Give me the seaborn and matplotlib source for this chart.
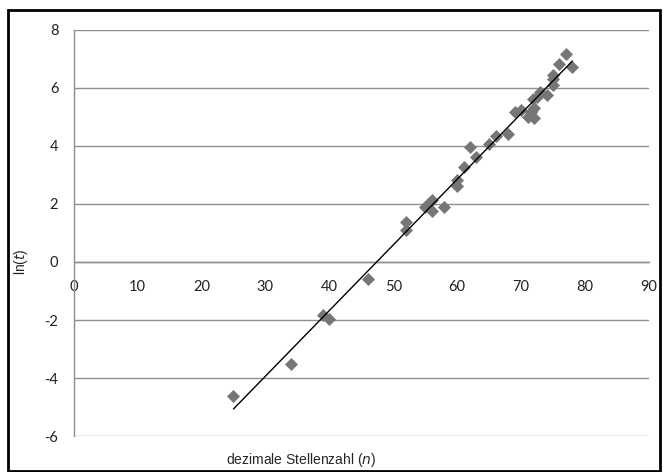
import numpy as np
import pandas as pd
import matplotlib
matplotlib.use("Agg")
from matplotlib import pyplot as plt
from matplotlib.patches import Rectangle
import seaborn as sns

# Data (n = decimal digits, ln(t))
digits = [25, 34, 39, 40, 46, 52, 52, 55, 55.5, 56, 56, 58, 60, 60, 61, 62, 63,
          65, 66, 68, 69, 70, 71, 71.5, 72, 72, 71.8, 72.4, 72.9, 74, 75, 74.9,
          75, 75.9, 77, 78]
ln_t = [-4.62, -3.5, -1.83, -1.97, -0.58, 1.1, 1.38, 1.9, 2.0, 2.12, 1.75, 1.89,
        2.6, 2.82, 3.28, 3.96, 3.63, 4.07, 4.35, 4.4, 5.15, 5.25, 5.0, 5.15,
        4.97, 5.3, 5.6, 5.7, 5.85, 5.76, 6.1, 6.3, 6.45, 6.82, 7.17, 6.73]

df = pd.DataFrame({"n": digits, "lnt": ln_t})

sns.set_style("white")
plt.rcParams["font.family"] = ["Liberation Sans", "DejaVu Sans"]
plt.rcParams["axes.unicode_minus"] = False

fig = plt.figure(figsize=(6.63, 4.72), dpi=100)
ax = fig.add_axes([0.111, 0.076, 0.868, 0.861])

grid_col = "#8e8e8e"
sns.scatterplot(data=df, x="n", y="lnt", marker="D", s=44, color="#767676",
                linewidth=0, ax=ax, zorder=3)
sns.regplot(data=df, x="n", y="lnt", scatter=False, ci=None, ax=ax,
            line_kws={"color": "black", "linewidth": 1.0, "zorder": 4})

ax.set_xlim(0, 90)
ax.set_ylim(-6, 8)
ax.set_xticks(range(0, 91, 10))
ax.set_yticks(range(-6, 9, 2))
ax.yaxis.grid(True, color=grid_col, linewidth=1.0)
ax.set_axisbelow(True)

ax.spines["bottom"].set_position(("data", 0))
ax.spines["top"].set_visible(False)
ax.spines["right"].set_visible(False)
for s in ("left", "bottom"):
    ax.spines[s].set_color(grid_col)
    ax.spines[s].set_linewidth(1.0)

ax.tick_params(axis="both", direction="out", length=4, color=grid_col,
               labelsize=10.5, labelcolor="#222222")
ax.tick_params(axis="x", pad=9)
ax.tick_params(axis="y", pad=7)
for lab in ax.get_xticklabels() + ax.get_yticklabels():
    lab.set_family(["Lato", "DejaVu Sans"])

ax.set_xlabel("")
ax.set_ylabel("")
fig.text(0.454, 0.025, r"dezimale Stellenzahl ($\it{n}$)", ha="center",
         va="center", fontsize=10)
fig.text(0.031, 0.445, r"ln($\it{t}$)", ha="center", va="center",
         rotation=90, fontsize=10)

fig.patches.append(Rectangle((0.012, 0.003), 0.984, 0.976, transform=fig.transFigure,
                             fill=False, edgecolor="black", linewidth=2.0))

fig.savefig("out.png", dpi=100)
